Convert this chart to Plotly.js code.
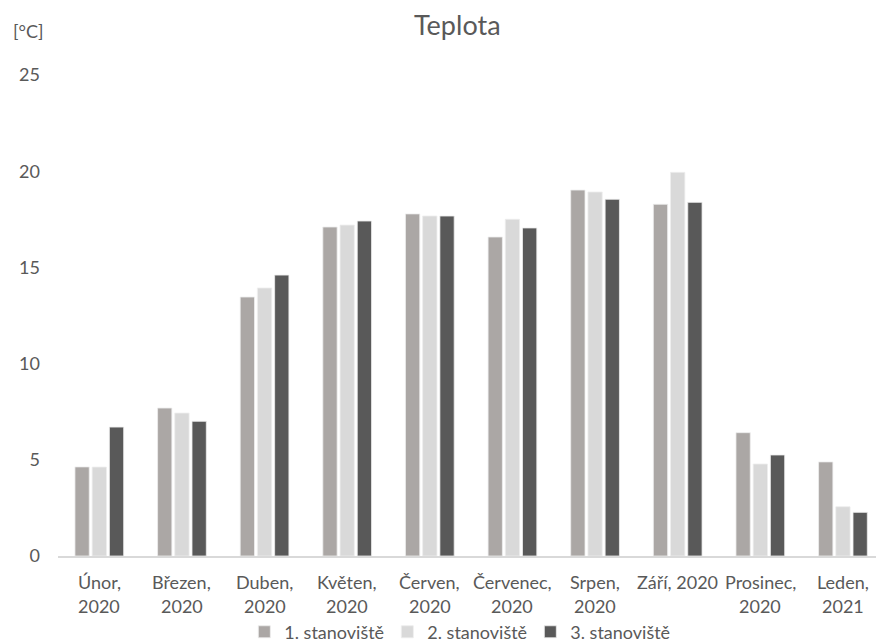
<!DOCTYPE html>
<html>
<head>
<meta charset="utf-8">
<script src="https://cdn.plot.ly/plotly-3.0.1.min.js"></script>
<style>
html,body{margin:0;padding:0;background:#fff;overflow:hidden;}
#chart{width:876px;height:643px;}
</style>
</head>
<body>
<div id="chart"></div>
<script>
const categories = ["Únor, 2020","Březen, 2020","Duben, 2020","Květen, 2020","Červen, 2020","Červenec, 2020","Srpen, 2020","Září, 2020","Prosinec, 2020","Leden, 2021"];
const labelLine1 = ["Únor,","Březen,","Duben,","Květen,","Červen,","Červenec,","Srpen,","Září, 2020","Prosinec,","Leden,"];
const labelLine2 = ["2020","2020","2020","2020","2020","2020","2020","","2020","2021"];
const seriesNames = ["1. stanoviště","2. stanoviště","3. stanoviště"];
const site1 = [4.63, 7.69, 13.46, 17.1, 17.78, 16.58, 19.02, 18.28, 6.41, 4.89];
const site2 = [4.62, 7.43, 13.93, 17.2, 17.67, 17.5, 18.92, 19.94, 4.78, 2.56];
const site3 = [6.7, 7.0, 14.6, 17.41, 17.67, 17.05, 18.54, 18.38, 5.25, 2.27];
const yTicks = [0, 5, 10, 15, 20, 25];

const colors = ["#aba7a5", "#d9d9d9", "#595959"];
const values = [site1, site2, site3];
const idx = categories.map((c, i) => i);
const FONT = "Lato, sans-serif";
const TXT = "#595959";

const traces = values.map((v, k) => ({
  type: "bar",
  name: seriesNames[k],
  x: idx,
  y: v,
  marker: {color: colors[k], line: {color: "#eeeeee", width: 0.8}},
  hoverinfo: "y"
}));

const annotations = [];
idx.forEach(i => {
  annotations.push({xref: "x", yref: "paper", x: i, y: 0, yanchor: "middle", yshift: -26,
    text: labelLine1[i], showarrow: false, font: {family: FONT, size: 18, color: TXT}});
  if (labelLine2[i]) annotations.push({xref: "x", yref: "paper", x: i, y: 0, yanchor: "middle", yshift: -50,
    text: labelLine2[i], showarrow: false, font: {family: FONT, size: 18, color: TXT}});
});
annotations.push({xref: "paper", yref: "paper", x: 0, y: 1, xanchor: "center", yanchor: "middle",
  xshift: -30, yshift: 44, text: "[°C]", showarrow: false,
  font: {family: FONT, size: 18, color: TXT}});

const layout = {
  width: 876, height: 643,
  margin: {l: 58, r: 0, t: 75, b: 87},
  paper_bgcolor: "#fff", plot_bgcolor: "#fff",
  font: {family: FONT, color: TXT},
  title: {text: "Teplota", font: {family: FONT, size: 27, color: TXT},
    xref: "container", x: 0.522, xanchor: "center", yref: "container", y: 0.961, yanchor: "middle"},
  barmode: "group", bargap: 0.375, bargroupgap: 0.17,
  xaxis: {range: [-0.5, 9.4], tickvals: idx, showticklabels: false,
    showline: true, linecolor: "#d9d9d9", linewidth: 1.5, ticks: "", showgrid: false, zeroline: false, fixedrange: true},
  yaxis: {range: [0, 25], tickvals: yTicks, showgrid: false, zeroline: false, showline: false, ticks: "",
    ticklabelstandoff: 17, tickfont: {family: FONT, size: 18, color: TXT}, fixedrange: true},
  showlegend: true,
  legend: {orientation: "h", xref: "paper", x: 0.49, xanchor: "center", yref: "container", y: 0.017, yanchor: "middle",
    font: {family: FONT, size: 18, color: TXT}, entrywidth: 98, itemwidth: 30},
  annotations: annotations
};

Plotly.newPlot("chart", traces, layout, {staticPlot: true, displayModeBar: false});
</script>
</body>
</html>
